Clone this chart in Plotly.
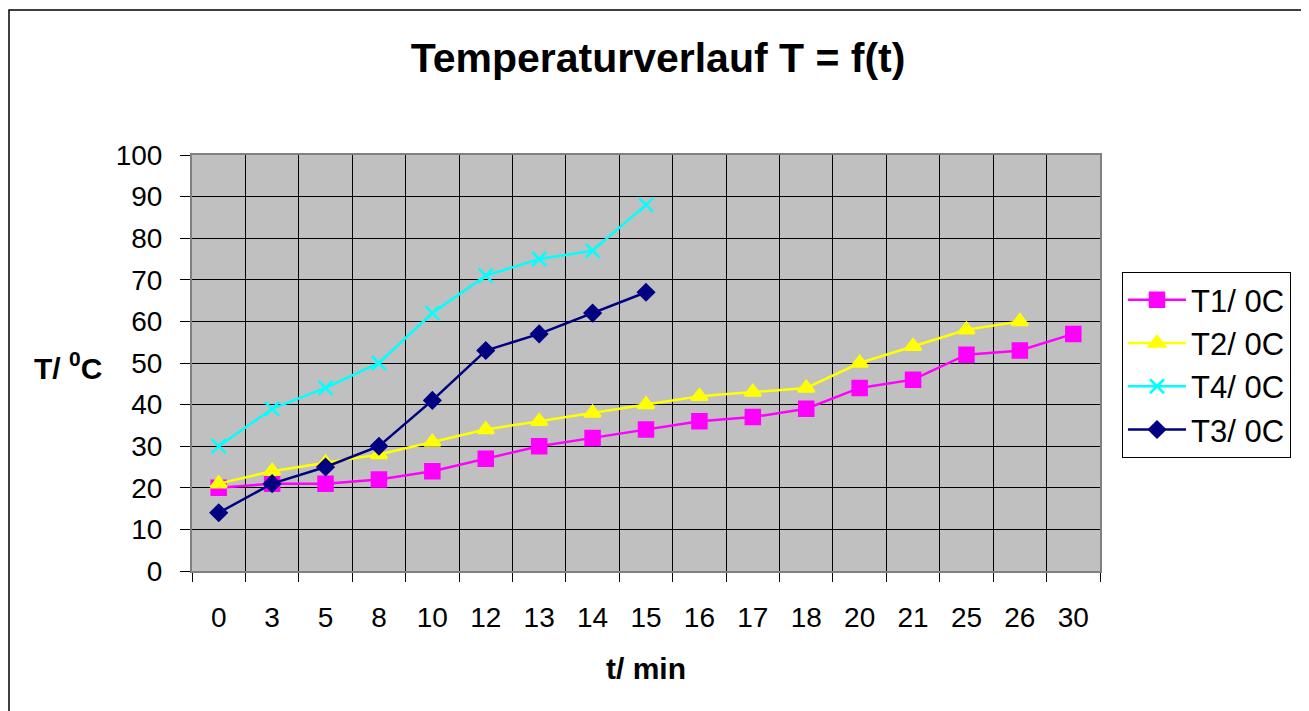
import plotly.graph_objects as go

t_labels = ["0", "3", "5", "8", "10", "12", "13", "14", "15", "16", "17", "18", "20", "21", "25", "26", "30"]
T1 = [20, 21, 21, 22, 24, 27, 30, 32, 34, 36, 37, 39, 44, 46, 52, 53, 57]
T2 = [21, 24, 26, 28, 31, 34, 36, 38, 40, 42, 43, 44, 50, 54, 58, 60]
T4 = [30, 39, 44, 50, 62, 71, 75, 77, 88]
T3 = [14, 21, 25, 30, 41, 53, 57, 62, 67]

series = [
    ("T1/ 0C", T1, "#FF00FF", "square", 14),
    ("T2/ 0C", T2, "#FFFF00", "triangle-up", 14),
    ("T4/ 0C", T4, "#00FFFF", "x-thin", 14),
    ("T3/ 0C", T3, "#000080", "diamond", 12),
]

fig = go.Figure()
for name, vals, col, sym, size in series:
    fig.add_trace(go.Scatter(
        x=t_labels[:len(vals)], y=vals, name=name, mode="lines+markers",
        legendgroup=name,
        line=dict(color=col, width=2.5),
        marker=dict(symbol=sym, size=size, color=col, line=dict(color=col, width=2.5)),
    ))

# page body has an 8px margin: work in screen pixels, convert to figure pixels
OFF = 8
W, H = 1309 - OFF, 711 - OFF
PX0, PX1, PY0, PY1 = 192, 1100, 155, 571  # plot area in screen pixels
L, T = PX0 - OFF, PY0 - OFF
pw, ph = PX1 - PX0, PY1 - PY0
R, B = W - L - pw, H - T - ph

def px_x(sx):
    return (sx - PX0) / pw

def px_y(sy):
    return (PY1 - sy) / ph

fig.add_shape(type="rect", xref="paper", yref="paper",
              x0=px_x(9), x1=px_x(1305), y0=px_y(720), y1=px_y(10),
              line=dict(color="black", width=1.5), fillcolor="rgba(0,0,0,0)", layer="below")

fig.add_annotation(text="<b>T/ <sup>0</sup>C</b>", xref="paper", yref="paper",
                   x=px_x(68), y=px_y(366), xanchor="center", yanchor="middle",
                   showarrow=False, font=dict(size=30, color="black"))

fig.add_annotation(text="<b>t/ min</b>", xref="paper", yref="paper",
                   x=px_x(646), y=px_y(668), xanchor="center", yanchor="middle",
                   showarrow=False, font=dict(size=30, color="black"))

fig.update_layout(
    width=W, height=H,
    margin=dict(l=L, r=R, t=T, b=B),
    paper_bgcolor="white", plot_bgcolor="#C0C0C0",
    font=dict(family="Liberation Sans, Arial, sans-serif", color="black", size=28),
    title=dict(text="<b>Temperaturverlauf T = f(t)</b>", x=(658 - OFF) / W, xanchor="center",
               y=1 - (58 - OFF) / H, yanchor="middle", font=dict(size=41, color="black")),
    showlegend=True,
    legend=dict(x=px_x(1122), y=px_y(272), xanchor="left", yanchor="top",
                bgcolor="white", bordercolor="black", borderwidth=1,
                font=dict(size=31), tracegroupgap=0, itemwidth=58),
    xaxis=dict(type="category", categoryorder="array", categoryarray=t_labels,
               range=[-0.5, len(t_labels) - 0.5],
               tickson="boundaries", ticks="outside", ticklen=9, tickcolor="black",
               showgrid=True, gridcolor="black", gridwidth=1,
               showline=True, linecolor="#808080", linewidth=2, mirror=True,
               tickfont=dict(size=28), ticklabelstandoff=20),
    yaxis=dict(range=[0, 100], dtick=10, ticks="outside", ticklen=10, tickcolor="black",
               showgrid=True, gridcolor="black", gridwidth=1,
               showline=True, linecolor="#808080", linewidth=2, mirror=True,
               zeroline=False, tickfont=dict(size=28), ticklabelstandoff=12),
)

fig.write_html("out.html")
